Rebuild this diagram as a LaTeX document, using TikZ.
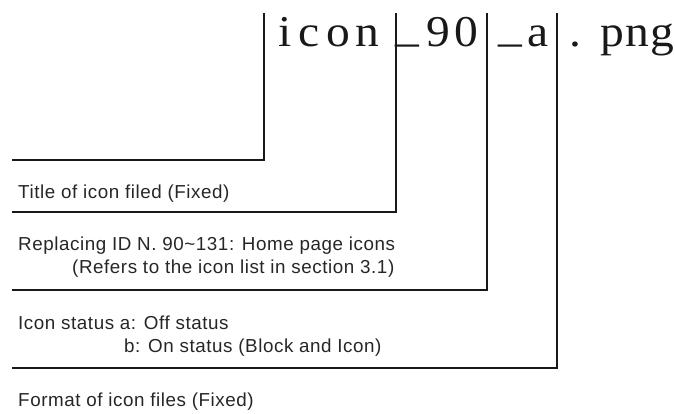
\documentclass[tikz,border=0pt]{standalone}
\usepackage{fontspec}
\newfontfamily\labfont[LetterSpace=3]{Liberation Sans}
\newfontfamily\serfont[FakeStretch=1.08]{Liberation Serif}
\begin{document}
\begin{tikzpicture}[x=1pt,y=-1pt,
  lead/.style={line width=1.8pt,color=black!90},
  lab/.style={anchor=base west,inner sep=0pt,font=\labfont\fontsize{18.8}{22}\selectfont,text=black!85},
  ch/.style={anchor=base,inner sep=0pt,font=\serfont\fontsize{44}{48}\selectfont,text=black!90}]
\useasboundingbox (0,0) rectangle (675,414);
% file name characters
\node[ch] (c1) at (285,47) {i};
\node[ch] (c2) at (309,47) {c};
\node[ch] (c3) at (338,47) {o};
\node[ch] (c4) at (367.5,47) {n};
\node[ch] (c5) at (407.5,42) {\_};
\node[ch] (c6) at (438.5,47) {9};
\node[ch] (c7) at (466,47) {0};
\node[ch] (c8) at (510.5,42) {\_};
\node[ch] (c9) at (538,47) {a};
\node[ch] (c10) at (575,47) {.};
\node[ch] (c11) at (612.5,47) {p};
\node[ch] (c12) at (637.5,47) {n};
\node[ch] (c13) at (662,47) {g};
% leader coordinates
\coordinate (t1) at (264,13); \coordinate (k1) at (264,160); \coordinate (e1) at (12,160);
\coordinate (t2) at (396,13); \coordinate (k2) at (396,212); \coordinate (e2) at (12,212);
\coordinate (t3) at (487,13); \coordinate (k3) at (487,290); \coordinate (e3) at (12,290);
\coordinate (t4) at (557,13); \coordinate (k4) at (557,368); \coordinate (e4) at (12,368);
\draw[lead] (t1) -- (k1) -- (e1);
\draw[lead] (t2) -- (k2) -- (e2);
\draw[lead] (t3) -- (k3) -- (e3);
\draw[lead] (t4) -- (k4) -- (e4);
% labels
\node[lab] (l1) at (18,199) {Title of icon filed (Fixed)};
\node[lab] (l2a) at (18,251) {Replacing ID N. 90\textasciitilde131: Home page icons};
\node[lab] (l2b) at (72,274) {(Refers to the icon list in section 3.1)};
\node[lab] (l3a) at (18,329) {Icon status a: Off status};
\node[lab] (l3b) at (124,352) {b: On status (Block and Icon)};
\node[lab] (l4) at (18,406) {Format of icon files (Fixed)};
\end{tikzpicture}
\end{document}
